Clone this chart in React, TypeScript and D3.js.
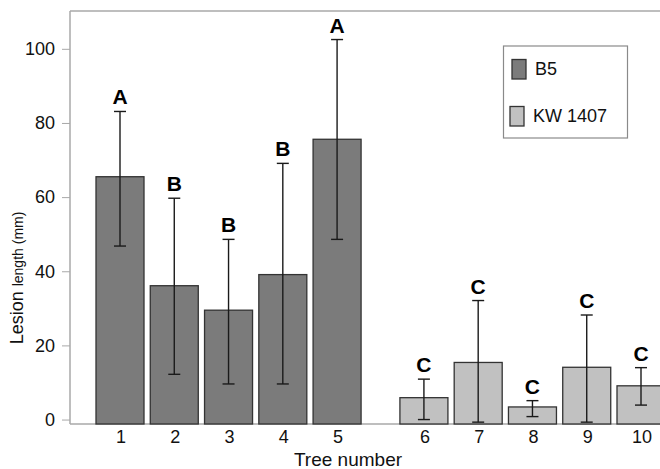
import React, { Component } from "react";
import * as d3 from "d3";

const trees = ["1", "2", "3", "4", "5", "6", "7", "8", "9", "10"];
const clones = ["B5", "B5", "B5", "B5", "B5", "KW 1407", "KW 1407", "KW 1407", "KW 1407", "KW 1407"];
const means = [65.5, 36.1, 29.5, 39.1, 75.6, 5.9, 15.4, 3.4, 14.1, 9.1];
const upper = [83.1, 59.7, 48.6, 69.1, 102.5, 10.9, 32.1, 5.1, 28.2, 14.0];
const lower = [46.8, 12.2, 9.6, 9.6, 48.6, 0.0, -0.7, 0.8, -0.7, 3.9];
const letters = ["A", "B", "B", "B", "A", "C", "C", "C", "C", "C"];
const yTicks = [0, 20, 40, 60, 80, 100];
const legendItems = ["B5", "KW 1407"];

class App extends Component {
  svgRef = React.createRef<SVGSVGElement>();

  componentDidMount() {
    this.draw();
  }

  draw() {
    const svg = d3.select(this.svgRef.current);
    svg.selectAll("*").remove();
    const font = "'Liberation Sans', Arial, sans-serif";

    const left = 70, right = 660, top = 11, bottom = 424;

    // y axis: 0 sits a little above the base line
    const y = d3.scaleLinear().domain([-1.2, 110.2]).range([bottom, top]);

    // second clone is set a bit further right
    const slot = (i) => (i < 5 ? i : i + 0.6);
    const x = d3.scaleLinear().domain([0, 9.6]).range([120, 641]);
    const barW = 48;

    const color = d3.scaleOrdinal().domain(legendItems).range(["#7b7b7b", "#c1c1c1"]);

    // frame lines
    svg.append("line")
      .attr("x1", left).attr("x2", right).attr("y1", top).attr("y2", top)
      .attr("stroke", "#a8a8a8").attr("stroke-width", 1.5);
    svg.append("line")
      .attr("x1", left).attr("x2", right).attr("y1", bottom).attr("y2", bottom)
      .attr("stroke", "#a8a8a8").attr("stroke-width", 1.5);

    const yAxis = svg.append("g")
      .attr("transform", `translate(${left},0)`)
      .call(d3.axisLeft(y).tickValues(yTicks).tickSize(8).tickPadding(7).tickSizeOuter(0));
    yAxis.select(".domain").attr("stroke", "#a8a8a8").attr("stroke-width", 1.5)
      .attr("d", `M0,${top}V${bottom}`);
    yAxis.selectAll(".tick line").attr("stroke", "#a8a8a8");
    yAxis.selectAll(".tick text")
      .attr("font-family", font).attr("font-size", 18).attr("fill", "#111");

    // bars
    svg.selectAll(".bar")
      .data(means)
      .join("rect")
      .attr("class", "bar")
      .attr("x", (d, i) => x(slot(i)) - barW / 2)
      .attr("width", barW)
      .attr("y", (d) => y(d))
      .attr("height", (d) => y(-1.2) - y(d))
      .attr("fill", (d, i) => color(clones[i]))
      .attr("stroke", "#333")
      .attr("stroke-width", 1.3);

    // error bars
    const err = svg.selectAll(".err").data(means).join("g").attr("class", "err")
      .attr("stroke", "#1a1a1a").attr("stroke-width", 1.4);
    err.append("line")
      .attr("x1", (d, i) => x(slot(i))).attr("x2", (d, i) => x(slot(i)))
      .attr("y1", (d, i) => y(upper[i])).attr("y2", (d, i) => y(lower[i]));
    err.append("line")
      .attr("x1", (d, i) => x(slot(i)) - 6).attr("x2", (d, i) => x(slot(i)) + 6)
      .attr("y1", (d, i) => y(upper[i])).attr("y2", (d, i) => y(upper[i]));
    err.append("line")
      .attr("x1", (d, i) => x(slot(i)) - 6).attr("x2", (d, i) => x(slot(i)) + 6)
      .attr("y1", (d, i) => y(lower[i])).attr("y2", (d, i) => y(lower[i]));

    // group letters
    svg.selectAll(".letter")
      .data(letters)
      .join("text")
      .attr("class", "letter")
      .attr("x", (d, i) => x(slot(i)))
      .attr("y", (d, i) => y(upper[i]) - 7)
      .attr("text-anchor", "middle")
      .attr("font-family", font).attr("font-size", 21).attr("font-weight", "bold")
      .attr("fill", "#000")
      .text((d) => d);

    // x tick labels
    svg.selectAll(".xlab")
      .data(trees)
      .join("text")
      .attr("class", "xlab")
      .attr("x", (d, i) => x(slot(i)) + 1)
      .attr("y", 443)
      .attr("text-anchor", "middle")
      .attr("font-family", font).attr("font-size", 18).attr("fill", "#111")
      .text((d) => d);

    svg.append("text")
      .attr("x", 348).attr("y", 466)
      .attr("text-anchor", "middle")
      .attr("font-family", font).attr("font-size", 19).attr("fill", "#111")
      .text("Tree number");

    const yl = svg.append("text")
      .attr("transform", "translate(23,278) rotate(-90)")
      .attr("text-anchor", "middle")
      .attr("font-family", font).attr("fill", "#111");
    yl.append("tspan").attr("font-size", 18).text("Lesion ");
    yl.append("tspan").attr("font-size", 14).text("length (mm)");

    // legend
    const lg = svg.append("g");
    lg.append("rect")
      .attr("x", 503.5).attr("y", 46).attr("width", 124).attr("height", 92)
      .attr("fill", "#fff").attr("stroke", "#8a8a8a").attr("stroke-width", 1.2);
    const item = lg.selectAll(".item").data(legendItems).join("g")
      .attr("transform", (d, i) => `translate(0,${i * 47})`);
    item.append("rect")
      .attr("x", (d, i) => 512 - i * 2).attr("y", 59.5).attr("width", 14).attr("height", 19.5)
      .attr("fill", (d) => color(d)).attr("stroke", "#333").attr("stroke-width", 1.3);
    item.append("text")
      .attr("x", (d, i) => 535 - i * 2).attr("y", 74.5)
      .attr("font-family", font).attr("font-size", 18).attr("fill", "#111")
      .text((d) => d);
  }

  render() {
    return (
      <svg
        ref={this.svgRef}
        width={660}
        height={469}
        style={{ position: "absolute", left: 0, top: 0, background: "#fff" }}
      />
    );
  }
}

export default App;
